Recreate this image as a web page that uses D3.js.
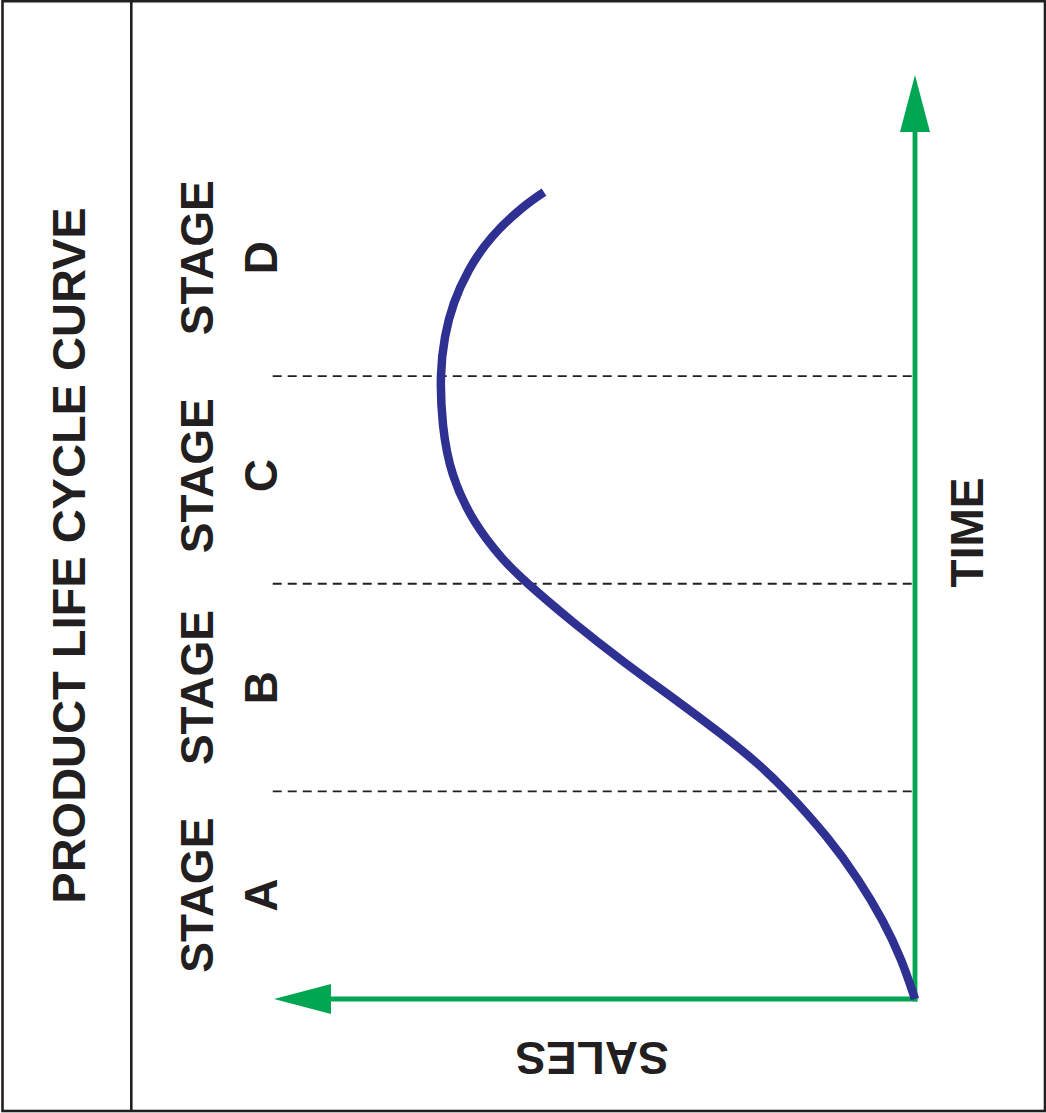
<!DOCTYPE html>
<html>
<head>
<meta charset="utf-8">
<script src="https://cdn.jsdelivr.net/npm/d3@7"></script>
<style>
  html, body { margin: 0; padding: 0; background: #fff; }
  svg { display: block; }
  text { font-family: "Liberation Sans", Arial, Helvetica, sans-serif; font-weight: bold; fill: #231f20; }
</style>
</head>
<body>
<svg id="chart" width="1046" height="1113"></svg>
<script>
// ---- data ----
const title = "PRODUCT LIFE CYCLE CURVE";
const stageNames = ["A", "B", "C", "D"];
const stageLabelTimes = [0.5, 1.5, 2.52, 3.57];
const stageBoundaries = [1, 2, 3];
const timeLabel = "TIME";
const salesLabel = "SALES";
// product life cycle curve (time in stage units, sales in % of the sales axis)
const curveTime  = [0, 0.188, 0.380, 0.573, 0.780, 1.0, 1.137, 1.262, 1.440, 1.618, 1.816, 2.0, 2.124, 2.297, 2.524, 2.764, 3.0, 3.188, 3.352, 3.511, 3.670, 3.809, 3.886];
const curveSales = [0, 2.18, 5.12, 8.86, 13.76, 20.08, 24.71, 29.66, 37.33, 45.18, 53.37, 60.37, 64.43, 68.64, 72.07, 73.63, 73.95, 73.32, 71.92, 69.58, 65.99, 61.31, 57.88];

// ---- layout ----
const svg = d3.select("#chart");
const ink = "#231f20", green = "#00a651", blue = "#2e3192";

const y = d3.scaleLinear().domain([0, 4.45]).range([999, 75]);   // time (vertical, up)
const x = d3.scaleLinear().domain([0, 100]).range([915, 274]);   // sales (horizontal, leftward)

// frame
svg.append("rect").attr("x", 2.5).attr("y", 1.2).attr("width", 1042.5).attr("height", 1109.8)
  .attr("fill", "none").attr("stroke", ink).attr("stroke-width", 2.6);
svg.append("line").attr("x1", 131.3).attr("x2", 131.3).attr("y1", 1).attr("y2", 1111)
  .attr("stroke", ink).attr("stroke-width", 2.6);

// title
svg.append("text").attr("transform", `translate(85,555.5) rotate(-90)`)
  .attr("text-anchor", "middle").attr("font-size", 47).text(title);

// dashed stage boundaries
svg.selectAll("line.stage").data(stageBoundaries).enter().append("line")
  .attr("class", "stage")
  .attr("x1", x(100.2)).attr("x2", x(0))
  .attr("y1", d => y(d)).attr("y2", d => y(d))
  .attr("stroke", ink).attr("stroke-width", 1.9).attr("stroke-dasharray", "9,6");

// stage labels
const lab = svg.selectAll("g.lab").data(stageNames).enter().append("g").attr("class", "lab");
lab.append("text").attr("transform", (d, i) => `translate(213,${y(stageLabelTimes[i])}) rotate(-90)`)
  .attr("text-anchor", "middle").attr("font-size", 46).text("STAGE");
lab.append("text").attr("transform", (d, i) => `translate(277,${y(stageLabelTimes[i])}) rotate(-90)`)
  .attr("text-anchor", "middle").attr("font-size", 46).text(d => d);

// axes (green arrows)
const headLen = 57, headHalf = 15;
svg.append("line").attr("x1", x(0)).attr("x2", x(0)).attr("y1", y(0) + 2.5).attr("y2", y.range()[1] + headLen - 1)
  .attr("stroke", green).attr("stroke-width", 4.8);
svg.append("line").attr("x1", x(0) + 2.4).attr("x2", x.range()[1] + headLen - 1).attr("y1", y(0)).attr("y2", y(0))
  .attr("stroke", green).attr("stroke-width", 4.8);
const tipT = y.range()[1];
svg.append("path").attr("fill", green)
  .attr("d", `M${x(0)},${tipT} L${x(0) + headHalf},${tipT + headLen} L${x(0) - headHalf},${tipT + headLen} Z`);
const tipS = x.range()[1];
svg.append("path").attr("fill", green)
  .attr("d", `M${tipS},${y(0)} L${tipS + headLen},${y(0) - headHalf} L${tipS + headLen},${y(0) + headHalf} Z`);

// axis labels
svg.append("text").attr("transform", `translate(983,532.5) rotate(-90)`)
  .attr("text-anchor", "middle").attr("font-size", 46).text(timeLabel);
svg.append("text").attr("transform", `translate(592,1042) rotate(180)`)
  .attr("text-anchor", "middle").attr("font-size", 46).text(salesLabel);

// curve
const pts = curveTime.map((t, i) => [curveSales[i], t]);
const line = d3.line().x(d => x(d[0])).y(d => y(d[1])).curve(d3.curveNatural);
svg.append("path").attr("d", line(pts)).attr("fill", "none")
  .attr("stroke", blue).attr("stroke-width", 8.5).attr("stroke-linecap", "butt");
</script>
</body>
</html>
